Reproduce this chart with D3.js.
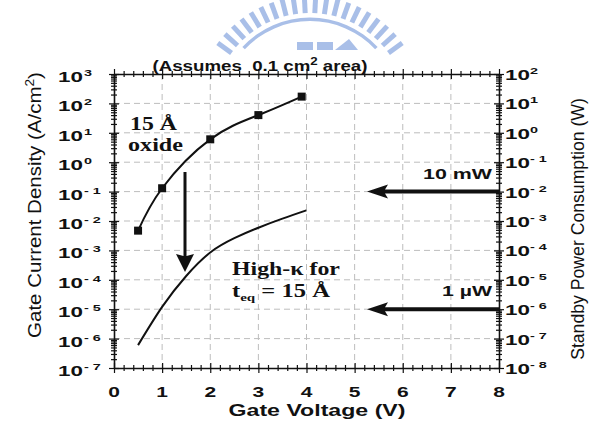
<!DOCTYPE html>
<html>
<head>
<meta charset="utf-8">
<script src="https://cdn.jsdelivr.net/npm/d3@7"></script>
<style>
  body { margin: 0; background: #fff; }
  svg text { font-family: "Liberation Sans", Arial, sans-serif; }
  svg text.serif { font-family: "Liberation Serif", "Times New Roman", serif; }
</style>
</head>
<body>
<svg id="chart" width="615" height="427"></svg>
<script>
// 15 A oxide (measured points, squares)
const oxideVolts = [0.5, 1, 2, 3, 3.9];
const oxideJ = [0.0047, 0.13, 6, 40, 170];

// high-k dielectric with t_eq = 15 A
const highkVolts = [0.5, 1, 1.5, 2, 2.5, 3, 3.5, 4];
const highkJ = [6e-7, 1.2e-5, 1.35e-4, 8.5e-4, 2.6e-3, 5.9e-3, 1.2e-2, 0.023];

// tick labels
const xTicks = [0, 1, 2, 3, 4, 5, 6, 7, 8];
const leftExp = [3, 2, 1, 0, -1, -2, -3, -4, -5, -6, -7];
const rightExp = [2, 1, 0, -1, -2, -3, -4, -5, -6, -7, -8];

// standby power levels marked on the right axis
const powerLevels = [0.01, 1e-6];
const powerLabels = ["10 mW", "1 \u00b5W"];

const svg = d3.select("#chart");
svg.append("rect").attr("width", 615).attr("height", 427).attr("fill", "#fff");

const pLeft = 114, pRight = 499, pTop = 74, pBottom = 368;

const x = d3.scaleLinear().domain([0, 8]).range([pLeft, pRight]);
const yL = d3.scaleLog().domain([1e-7, 1e3]).range([pBottom, pTop]);
const yR = d3.scaleLog().domain([1e-8, 1e2]).range([pBottom, pTop]);

// watermark logo at the top
const logo = svg.append("g").attr("fill", "#a9bfe8").attr("stroke", "#a9bfe8");
const lc = [310, 110];
d3.range(20).forEach(i => {
  const a = (-144 + i * 108 / 19) * Math.PI / 180;
  logo.append("line")
    .attr("x1", lc[0] + 97 * Math.cos(a)).attr("y1", lc[1] + 97 * Math.sin(a))
    .attr("x2", lc[0] + 114 * Math.cos(a)).attr("y2", lc[1] + 114 * Math.sin(a))
    .attr("stroke-width", 5);
});
logo.append("path")
  .attr("transform", `translate(${lc[0]},${lc[1]})`)
  .attr("stroke", "none")
  .attr("d", d3.arc().innerRadius(89).outerRadius(92.5)
    .startAngle(-47 * Math.PI / 180).endAngle(47 * Math.PI / 180)());
logo.append("rect").attr("x", 297).attr("y", 42).attr("width", 16).attr("height", 8).attr("stroke", "none");
logo.append("rect").attr("x", 317).attr("y", 42).attr("width", 16).attr("height", 8).attr("stroke", "none");
logo.append("path").attr("d", "M335,50 L358,50 L349,39 Z").attr("stroke", "none");

// dashed grid
const grid = svg.append("g").attr("stroke", "#bdbdbd").attr("stroke-width", 1)
  .attr("stroke-dasharray", "6,4");
grid.selectAll(".v").data(xTicks.slice(1, -1)).join("line")
  .attr("x1", d => x(d)).attr("x2", d => x(d))
  .attr("y1", pTop).attr("y2", pBottom);
grid.selectAll(".h").data(leftExp.slice(1, -1)).join("line")
  .attr("x1", pLeft).attr("x2", pRight)
  .attr("y1", d => yL(Math.pow(10, d))).attr("y2", d => yL(Math.pow(10, d)));

// axes
function minorLog(lo, hi) {
  const out = [];
  for (let e = lo; e < hi; e++) for (let m = 2; m <= 9; m++) out.push(m * Math.pow(10, e));
  return out;
}
const xMinor = d3.range(0, 8.01, 0.2).filter(v => Math.abs(v - Math.round(v)) > 0.01);

function bothWays(g, attr, size) {
  g.selectAll(".tick line").attr(attr + "1", size).attr(attr + "2", -size)
    .attr("stroke", "#111").attr("stroke-width", 1.2);
  g.selectAll(".tick text").remove();
}

function drawAxis(axisFn, scale, majors, minors, transform, attr) {
  const gMin = svg.append("g").attr("transform", transform)
    .call(axisFn(scale).tickValues(minors).tickSizeOuter(0).tickFormat(""));
  gMin.select(".domain").remove();
  bothWays(gMin, attr, 3);
  const gMaj = svg.append("g").attr("transform", transform)
    .call(axisFn(scale).tickValues(majors).tickSizeOuter(0).tickFormat(""));
  gMaj.select(".domain").attr("stroke", "#111").attr("stroke-width", 1.6);
  bothWays(gMaj, attr, 5);
}

drawAxis(d3.axisLeft, yL, leftExp.map(e => Math.pow(10, e)), minorLog(-7, 3), `translate(${pLeft},0)`, "x");
drawAxis(d3.axisRight, yR, rightExp.map(e => Math.pow(10, e)), minorLog(-8, 2), `translate(${pRight},0)`, "x");
drawAxis(d3.axisBottom, x, xTicks, xMinor, `translate(0,${pBottom})`, "y");
drawAxis(d3.axisTop, x, xTicks, xMinor, `translate(0,${pTop})`, "y");

// stretched text helper (the scanned figure is wider than it is tall)
function txt(x0, y0, parts, o) {
  const g = svg.append("g");
  const t = g.append("text")
    .attr("text-anchor", o.anchor || "start")
    .attr("font-size", o.size)
    .attr("font-weight", o.weight || "bold")
    .attr("fill", "#111")
    .attr("class", o.cls || null);
  parts.forEach(p => {
    const s = t.append("tspan").text(p.t);
    if (p.dy) s.attr("dy", p.dy);
    if (p.size) s.attr("font-size", p.size);
  });
  const len = t.node().getComputedTextLength();
  const sx = o.width ? o.width / len : (o.sx || 1);
  const rot = o.rotate ? ` rotate(${o.rotate})` : "";
  const sy = o.sy || 1;
  g.attr("transform", `translate(${x0},${y0})${rot} scale(${sx},${sy})`);
  return g;
}

function sup(e) { return e < 0 ? "- " + (-e) : String(e); }

// left tick labels
leftExp.forEach(e => {
  const y0 = yL(Math.pow(10, e)) + 8;
  txt(83, y0, [{ t: "10" }], { anchor: "end", size: 14, sx: 1.6 });
  txt(84, y0 - 6, [{ t: sup(e) }], { size: 9, sx: 1.6 });
});

// right tick labels
rightExp.forEach(e => {
  const y0 = yR(Math.pow(10, e)) + 6;
  txt(505, y0, [{ t: "10" }], { size: 14, sx: 1.6 });
  txt(530, y0 - 6, [{ t: sup(e) }], { size: 9, sx: 1.6 });
});

// x tick labels
xTicks.forEach(v => {
  txt(x(v), 397, [{ t: String(v) }], { anchor: "middle", size: 15, sx: 1.4 });
});

// titles
txt(317, 416, [{ t: "Gate Voltage (V)" }], { anchor: "middle", size: 17, width: 177 });
txt(260, 71, [{ t: "(Assumes\u00a0 0.1 cm" }, { t: "2", size: 10, dy: -6 }, { t: " area)", dy: 6 }],
  { anchor: "middle", size: 14, width: 215 });
txt(41, 205, [{ t: "Gate Current Density (A/cm" }, { t: "2", size: 10, dy: -6 }, { t: ")", dy: 6 }],
  { anchor: "middle", size: 15, weight: "normal", rotate: -90, width: 266, sy: 1.2 });
txt(584, 229, [{ t: "Standby Power Consumption (W)" }],
  { anchor: "middle", size: 15, weight: "normal", rotate: -90, width: 262, sy: 1.2 });

// curves
const line = d3.line().curve(d3.curveNatural);
svg.append("path")
  .attr("d", line(oxideVolts.map((v, i) => [x(v), yL(oxideJ[i])])))
  .attr("fill", "none").attr("stroke", "#111").attr("stroke-width", 2);
svg.append("path")
  .attr("d", line(highkVolts.map((v, i) => [x(v), yL(highkJ[i])])))
  .attr("fill", "none").attr("stroke", "#111").attr("stroke-width", 2);

svg.append("g").selectAll("rect").data(oxideVolts).join("rect")
  .attr("x", (d) => x(d) - 4).attr("y", (d, i) => yL(oxideJ[i]) - 4)
  .attr("width", 8).attr("height", 8).attr("fill", "#111");

// annotations
txt(130, 130, [{ t: "15 \u00c5" }], { size: 18, cls: "serif", width: 47 });
txt(128, 151, [{ t: "oxide" }], { size: 18, cls: "serif", width: 55 });
txt(232, 275, [{ t: "High-\u03ba for" }], { size: 18, cls: "serif", width: 108 });
txt(232, 297, [{ t: "t" }, { t: "eq", size: 11, dy: 4 }, { t: " = 15 \u00c5", dy: -4 }],
  { size: 18, cls: "serif", width: 98 });

// down arrow from oxide curve to high-k curve
const dx = 185, dTop = 172, dTip = 272;
svg.append("path")
  .attr("d", `M${dx - 1.5},${dTop} L${dx + 1.5},${dTop} L${dx + 1.5},${dTip - 16} L${dx + 9},${dTip - 18}
    L${dx},${dTip} L${dx - 9},${dTip - 18} L${dx - 1.5},${dTip - 16} Z`)
  .attr("fill", "#111");

// power level arrows from the right axis
const tipX = 367;
powerLevels.forEach((p, i) => {
  const yy = yR(p);
  svg.append("path")
    .attr("d", `M${tipX},${yy} L${tipX + 21},${yy - 7} L${tipX + 18},${yy - 2} L${pRight},${yy - 2}
      L${pRight},${yy + 2} L${tipX + 18},${yy + 2} L${tipX + 21},${yy + 7} Z`)
    .attr("fill", "#111");
  txt(492, yy - 13, [{ t: powerLabels[i] }], { anchor: "end", size: 15, width: i === 0 ? 69 : 50 });
});
</script>
</body>
</html>
